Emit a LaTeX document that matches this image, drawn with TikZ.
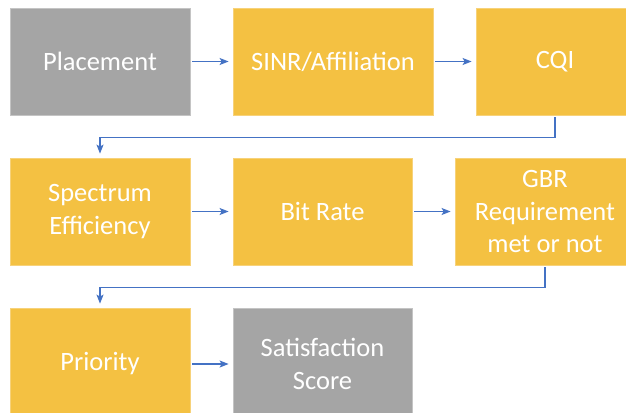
\documentclass[tikz,border=0pt]{standalone}
\usepackage{fontspec}
\setmainfont{Carlito}
\usetikzlibrary{arrows.meta}
\definecolor{boxgold}{HTML}{F4C142}
\definecolor{boxgray}{HTML}{A5A5A5}
\definecolor{goldedge}{HTML}{F7D27A}
\definecolor{grayedge}{HTML}{C4C4C4}
\definecolor{linkblue}{HTML}{4472C4}
\tikzset{
  box/.style={rectangle, minimum height=107pt, inner sep=0pt, align=center,
    text=white, font=\fontsize{26.5}{32.3}\selectfont, line width=0.8pt},
  goldbox/.style={box, fill=boxgold, draw=goldedge},
  graybox/.style={box, fill=boxgray, draw=grayedge},
  link/.style={draw=linkblue, line width=1.2pt, -{Stealth[length=9pt,width=7pt,inset=2pt]}}
}
\begin{document}
\begin{tikzpicture}[x=1pt,y=-1pt]
\clip (0,0) rectangle (626,412);
\fill[white] (0,0) rectangle (626,412);
% row 1
\node[graybox, minimum width=180pt] (place) at (100,61.5) {Placement};
\node[goldbox, minimum width=200pt] (sinr) at (333,61.5) {SINR/Affiliation};
\node[goldbox, minimum width=158pt] (cqi) at (555,61.5) {CQI};
% row 2
\node[goldbox, minimum width=180pt] (spec) at (100,211.5) {Spectrum\\Efficiency};
\node[goldbox, minimum width=179pt] (bit) at (322.5,211.5) {Bit Rate};
\node[goldbox, minimum width=180pt] (gbr) at (545,211.5) {GBR\\Requirement\\met or not};
% row 3
\node[goldbox, minimum width=180pt, minimum height=112pt] (prio) at (100,364) {Priority};
\node[graybox, minimum width=179pt, minimum height=112pt] (sat) at (322.5,364) {Satisfaction\\Score};
% connectors
\draw[link, shorten <=2pt, shorten >=4pt] (place.east) -- (sinr.west);
\draw[link, shorten <=2pt, shorten >=4pt] (sinr.east) -- (cqi.west);
\draw[link, shorten <=2pt, shorten >=4pt] (spec.east) -- (bit.west);
\draw[link, shorten <=2pt, shorten >=4pt] (bit.east) -- (gbr.west);
\draw[link, shorten <=2pt, shorten >=4pt] (prio.east) -- (sat.west);
\draw[link, shorten <=2pt, shorten >=4pt] (cqi.south) -- ++(0,22) -| (spec.north);
\draw[link, shorten <=2pt, shorten >=4pt] (gbr.south) -- ++(0,22) -| (prio.north);
\end{tikzpicture}
\end{document}
